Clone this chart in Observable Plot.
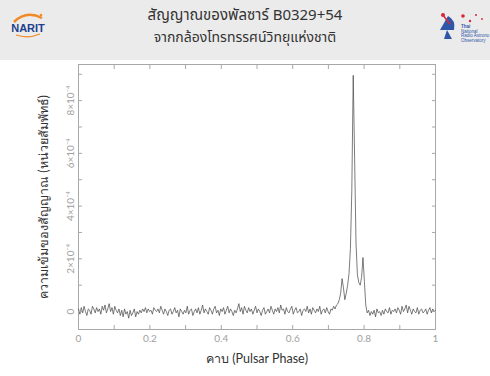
<!DOCTYPE html>
<html>
<head>
<meta charset="utf-8">
<script src="https://cdn.jsdelivr.net/npm/d3@7"></script>
<script src="https://cdn.jsdelivr.net/npm/@observablehq/plot@0.6"></script>
<style>
  html, body { margin: 0; padding: 0; background: #fff; width: 490px; height: 376px; overflow: hidden; }
  #hdr { position: relative; height: 60px; background: #ebebeb; font-family: "Noto Sans Thai", "Open Sans", Lato, sans-serif; color: #333; }
  #t1 { position: absolute; left: 0; right: 0; top: 6px; text-align: center; font-size: 15px; line-height: 20px; }
  #t2 { position: absolute; left: 0; right: 0; top: 28px; text-align: center; font-size: 14px; line-height: 20px; }
  #chart { position: absolute; left: 0; top: 60px; }
</style>
</head>
<body>
<div id="hdr">
  <svg style="position:absolute;left:8px;top:10px" width="40" height="28" viewBox="0 0 40 28">
    <path d="M6 12 Q 18 0 34 8" fill="none" stroke="#f08a24" stroke-width="2.5"/>
    <circle cx="33" cy="5" r="1.3" fill="#f08a24"/>
    <text x="20" y="22" text-anchor="middle" font-family="Liberation Sans, Arial, sans-serif" font-weight="bold" font-size="11" fill="#1d3f8f">NARIT</text>
    <path d="M8 25 Q 20 29 32 24" fill="none" stroke="#f08a24" stroke-width="1.2"/>
  </svg>
  <div id="t1">สัญญาณของพัลซาร์ B0329+54</div>
  <div id="t2">จากกล้องโทรทรรศน์วิทยุแห่งชาติ</div>
  <svg style="position:absolute;left:434px;top:8px" width="56" height="36" viewBox="0 0 56 36">
    <path d="M6 22 L14 8 Q 22 12 20 22 Z" fill="#2f57a8"/>
    <path d="M13 22 L10 31 L18 31 Z" fill="#2f57a8"/>
    <line x1="8" y1="6" x2="16" y2="16" stroke="#d9263a" stroke-width="1.5"/>
    <circle cx="9" cy="7" r="2" fill="#d9263a"/>
    <circle cx="29" cy="8" r="1.8" fill="#d9263a"/>
    <circle cx="36" cy="13" r="1.2" fill="#d9263a"/>
    <circle cx="42" cy="7" r="1" fill="#d9263a"/>
    <circle cx="48" cy="11" r="0.9" fill="#d9263a"/>
    <text x="27" y="20" font-family="Liberation Sans, sans-serif" font-size="4.5" font-weight="bold" fill="#2f57a8">Thai</text>
    <text x="27" y="24.5" font-family="Liberation Sans, sans-serif" font-size="4.5" fill="#2f57a8">National</text>
    <text x="27" y="29" font-family="Liberation Sans, sans-serif" font-size="4.5" fill="#2f57a8">Radio Astrono</text>
    <text x="27" y="33.5" font-family="Liberation Sans, sans-serif" font-size="4.5" fill="#2f57a8">Observatory</text>
  </svg>
</div>
<div id="chart"></div>
<script>
// Pulse profile of PSR B0329+54, intensity in units of 1e-4, 257 phase bins over one period
const phaseStep = 1 / 256;
const intensity = [
  0.1,-0.1,0.15,-0.05,0.2,0.0,-0.15,0.1,0.05,-0.1,0.2,0.1,-0.05,0.15,0.0,0.1,
  -0.1,0.2,0.05,0.25,-0.05,0.1,0.3,0.0,0.15,-0.1,0.2,0.05,-0.05,0.1,-0.15,0.05,
  -0.2,0.1,-0.1,0.0,-0.25,0.05,-0.15,-0.05,0.1,-0.2,0.0,-0.1,0.05,-0.05,0.1,0.0,
  0.15,-0.05,0.1,0.0,0.05,-0.1,0.15,0.05,0.0,0.1,-0.05,0.2,0.05,-0.1,0.1,0.0,
  -0.15,0.05,0.1,-0.1,0.0,0.15,-0.05,0.05,-0.2,0.1,0.0,-0.1,0.05,-0.05,0.2,-0.1,
  0.05,0.1,-0.15,0.0,0.1,-0.05,0.15,-0.1,0.05,0.25,-0.05,0.1,0.0,-0.1,0.15,0.05,
  -0.1,0.1,0.2,-0.05,0.05,-0.15,0.1,0.0,0.15,-0.1,0.05,0.2,-0.05,0.1,0.0,-0.15,
  0.05,-0.05,0.1,0.3,0.0,0.15,-0.1,0.2,0.05,-0.05,0.15,0.0,0.1,-0.1,0.05,0.2,
  -0.05,0.1,0.0,-0.15,0.05,0.15,-0.1,0.0,0.1,-0.05,0.2,0.05,-0.1,0.1,0.0,0.15,
  -0.05,0.25,0.05,0.1,-0.1,0.15,0.0,-0.05,0.1,0.2,-0.1,0.05,0.15,-0.05,0.0,0.1,
  -0.15,0.05,0.1,0.0,0.2,-0.05,0.1,-0.1,0.15,0.05,-0.05,0.1,0.0,0.2,-0.1,0.05,
  0.1,-0.05,0.15,0.0,-0.1,0.1,0.05,0.2,0.1,0.25,
  0.3,0.45,0.7,1.25,0.9,0.45,0.7,1.0,1.45,2.4,4.6,8.96,5.8,2.6,1.4,1.1,1.0,1.3,2.05,1.15,0.25,-0.05,
  0.05,-0.15,0.0,-0.1,0.05,-0.2,0.1,-0.05,0.0,-0.15,0.05,-0.1,0.1,0.0,-0.05,0.15,
  -0.1,0.05,0.0,0.1,-0.05,0.15,0.05,-0.1,0.2,0.0,0.1,0.25,-0.05,0.2,0.05,-0.1,
  0.1,0.0,-0.05,0.15,-0.1,0.05,0.1,-0.05,0.0,0.1,-0.1,0.05,0.15,-0.05,0.1,0.0,0.05
];
const xTicks = [0, 0.1, 0.2, 0.3, 0.4, 0.5, 0.6, 0.7, 0.8, 0.9, 1];
const xTickLabels = ["0", "", "0.2", "", "0.4", "", "0.6", "", "0.8", "", "1"];
const yTicks = [0, 1, 2, 3, 4, 5, 6, 7, 8, 9];
const yTickLabels = ["0", "", "2×10⁻⁴", "", "4×10⁻⁴", "", "6×10⁻⁴", "", "8×10⁻⁴", ""];
const xLabel = "คาบ (Pulsar Phase)";
const yLabel = "ความเข้มของสัญญาณ (หน่วยสัมพัทธ์)";

const data = intensity.map((v, i) => ({phase: i * phaseStep, value: v}));
const xFmt = d => xTickLabels[xTicks.indexOf(d)] ?? "";
const yFmt = d => yTickLabels[yTicks.indexOf(d)] ?? "";
const tickCol = "#a8a8a8";
const textCol = "#a0a0a0";
const labelCol = "#333333";

const chart = Plot.plot({
  width: 490,
  height: 316,
  marginTop: 4,
  marginBottom: 47,
  marginLeft: 78,
  marginRight: 55,
  style: {background: "transparent", fontFamily: "Lato, 'Open Sans', sans-serif"},
  x: {domain: [0, 1]},
  y: {domain: [-0.68, 9.37]},
  marks: [
    Plot.frame({stroke: tickCol, strokeWidth: 1}),
    Plot.line(data, {x: "phase", y: "value", stroke: "#444", strokeWidth: 0.7}),
    Plot.axisX({anchor: "bottom", ticks: xTicks, tickSize: -4, stroke: tickCol, text: null, label: null}),
    Plot.axisX({anchor: "top", ticks: xTicks, tickSize: -4, stroke: tickCol, text: null, label: null}),
    Plot.axisX({anchor: "bottom", ticks: xTicks, tickSize: 0, tickPadding: 5, tickFormat: xFmt, color: textCol, fill: textCol, fontSize: 10, label: null}),
    Plot.axisX({anchor: "bottom", ticks: [], tickSize: 0, label: xLabel, labelAnchor: "center", labelOffset: 33, labelArrow: "none", color: labelCol, fill: labelCol, fontSize: 12.5}),
    Plot.axisY({anchor: "left", ticks: yTicks, tickSize: -4, stroke: tickCol, text: null, label: null}),
    Plot.axisY({anchor: "right", ticks: yTicks, tickSize: -4, stroke: tickCol, text: null, label: null}),
    Plot.axisY({anchor: "left", ticks: yTicks, tickSize: 0, tickPadding: 5, tickFormat: yFmt, rotate: -90, textAnchor: "middle", lineAnchor: "bottom",
      color: textCol, fill: textCol, fontSize: 10, label: null}),
    Plot.axisY({anchor: "left", ticks: [], tickSize: 0, label: yLabel, labelAnchor: "center", labelOffset: 39, labelArrow: "none", color: labelCol, fill: labelCol, fontSize: 12.5})
  ]
});
document.getElementById("chart").appendChild(chart);
</script>
</body>
</html>
